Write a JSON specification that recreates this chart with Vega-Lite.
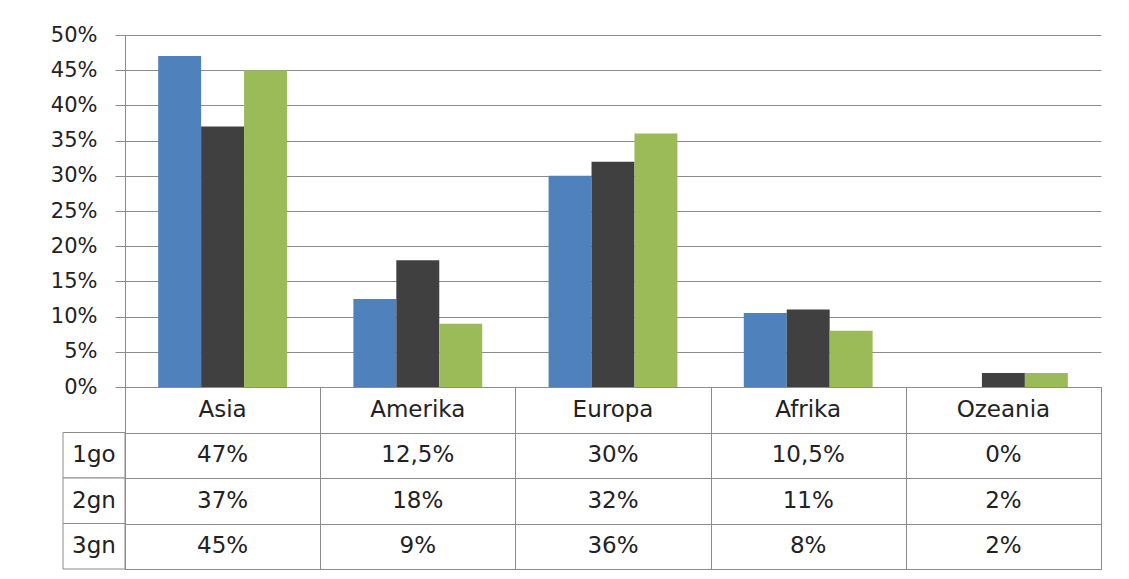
{
  "$schema": "https://vega.github.io/schema/vega-lite/v6.json",
  "padding": {"left": 50, "top": 24, "right": 28, "bottom": 10},
  "background": "white",
  "datasets": {
    "shares": [
      {"region": "Asia", "series": "1go", "value": 0.47},
      {"region": "Asia", "series": "2gn", "value": 0.37},
      {"region": "Asia", "series": "3gn", "value": 0.45},
      {"region": "Amerika", "series": "1go", "value": 0.125},
      {"region": "Amerika", "series": "2gn", "value": 0.18},
      {"region": "Amerika", "series": "3gn", "value": 0.09},
      {"region": "Europa", "series": "1go", "value": 0.30},
      {"region": "Europa", "series": "2gn", "value": 0.32},
      {"region": "Europa", "series": "3gn", "value": 0.36},
      {"region": "Afrika", "series": "1go", "value": 0.105},
      {"region": "Afrika", "series": "2gn", "value": 0.11},
      {"region": "Afrika", "series": "3gn", "value": 0.08},
      {"region": "Ozeania", "series": "1go", "value": 0.0},
      {"region": "Ozeania", "series": "2gn", "value": 0.02},
      {"region": "Ozeania", "series": "3gn", "value": 0.02}
    ],
    "seriesList": [
      {"series": "1go"},
      {"series": "2gn"},
      {"series": "3gn"}
    ]
  },
  "columns": 2,
  "spacing": 0,
  "bounds": "flush",
  "align": "each",
  "concat": [
    {
      "width": 62,
      "height": 352,
      "view": {"stroke": null},
      "data": {"values": [{"a": 1}]},
      "mark": {"type": "text"},
      "encoding": {"text": {"value": ""}}
    },
    {
      "width": 976,
      "height": 352,
      "view": {"stroke": null},
      "data": {"name": "shares"},
      "mark": {"type": "bar"},
      "encoding": {
        "x": {
          "field": "region",
          "type": "nominal",
          "sort": ["Asia", "Amerika", "Europa", "Afrika", "Ozeania"],
          "scale": {"paddingInner": 0.34, "paddingOuter": 0.17},
          "axis": null
        },
        "xOffset": {
          "field": "series",
          "type": "nominal",
          "sort": ["1go", "2gn", "3gn"],
          "scale": {"paddingInner": 0, "paddingOuter": 0}
        },
        "y": {
          "field": "value",
          "type": "quantitative",
          "scale": {"domain": [0, 0.5], "nice": false},
          "axis": {
            "title": null,
            "format": ".0%",
            "values": [0, 0.05, 0.1, 0.15, 0.2, 0.25, 0.3, 0.35, 0.4, 0.45, 0.5],
            "grid": true,
            "gridColor": "#8c8c8c",
            "gridWidth": 1,
            "domainColor": "#8c8c8c",
            "tickColor": "#8c8c8c",
            "tickSize": 10,
            "labelPadding": 18,
            "labelFont": "DejaVu Sans",
            "labelFontSize": 21,
            "labelColor": "#222222"
          }
        },
        "color": {
          "field": "series",
          "type": "nominal",
          "scale": {"domain": ["1go", "2gn", "3gn"], "range": ["#4F81BD", "#404040", "#9BBB59"]},
          "legend": null
        }
      }
    },
    {
      "width": 62,
      "height": 182,
      "view": {"stroke": null},
      "data": {"name": "seriesList"},
      "layer": [
        {
          "mark": {"type": "rect", "fill": "white", "stroke": "#8c8c8c", "strokeWidth": 1},
          "encoding": {
            "y": {
              "field": "series",
              "type": "nominal",
              "scale": {"domain": ["hdr", "1go", "2gn", "3gn"], "paddingInner": 0, "paddingOuter": 0},
              "axis": null
            }
          }
        },
        {
          "mark": {"type": "text", "font": "DejaVu Sans", "fontSize": 23, "color": "#222222", "align": "center", "baseline": "middle"},
          "encoding": {
            "y": {"field": "series", "type": "nominal"},
            "text": {"field": "series", "type": "nominal"}
          }
        }
      ]
    },
    {
      "width": 976,
      "height": 182,
      "view": {"stroke": "#8c8c8c", "strokeWidth": 1},
      "data": {"name": "shares"},
      "encoding": {
        "x": {
          "field": "region",
          "type": "nominal",
          "sort": ["Asia", "Amerika", "Europa", "Afrika", "Ozeania"],
          "scale": {"paddingInner": 0, "paddingOuter": 0},
          "axis": {
            "title": null,
            "labels": false,
            "ticks": false,
            "domain": false,
            "grid": true,
            "tickBand": "extent",
            "gridColor": "#8c8c8c",
            "gridWidth": 1
          }
        }
      },
      "layer": [
        {
          "mark": {"type": "text", "font": "DejaVu Sans", "fontSize": 23, "color": "#222222", "baseline": "middle"},
          "encoding": {
            "y": {
              "field": "series",
              "type": "nominal",
              "scale": {"domain": ["hdr", "1go", "2gn", "3gn"], "paddingInner": 0, "paddingOuter": 0},
              "axis": {
                "title": null,
                "labels": false,
                "ticks": false,
                "domain": false,
                "grid": true,
                "tickBand": "extent",
                "gridColor": "#8c8c8c",
                "gridWidth": 1
              }
            },
            "text": {"field": "value", "type": "quantitative", "format": "~%"}
          }
        },
        {
          "transform": [{"filter": {"field": "series", "equal": "1go"}}],
          "mark": {"type": "text", "font": "DejaVu Sans", "fontSize": 23, "color": "#222222", "baseline": "middle"},
          "encoding": {
            "y": {"datum": "hdr", "type": "nominal"},
            "text": {"field": "region", "type": "nominal"}
          }
        }
      ]
    }
  ],
  "config": {
    "locale": {
      "number": {"decimal": ",", "thousands": ".", "grouping": [3], "currency": ["", " €"]}
    },
    "axis": {"labelFont": "DejaVu Sans"}
  }
}
